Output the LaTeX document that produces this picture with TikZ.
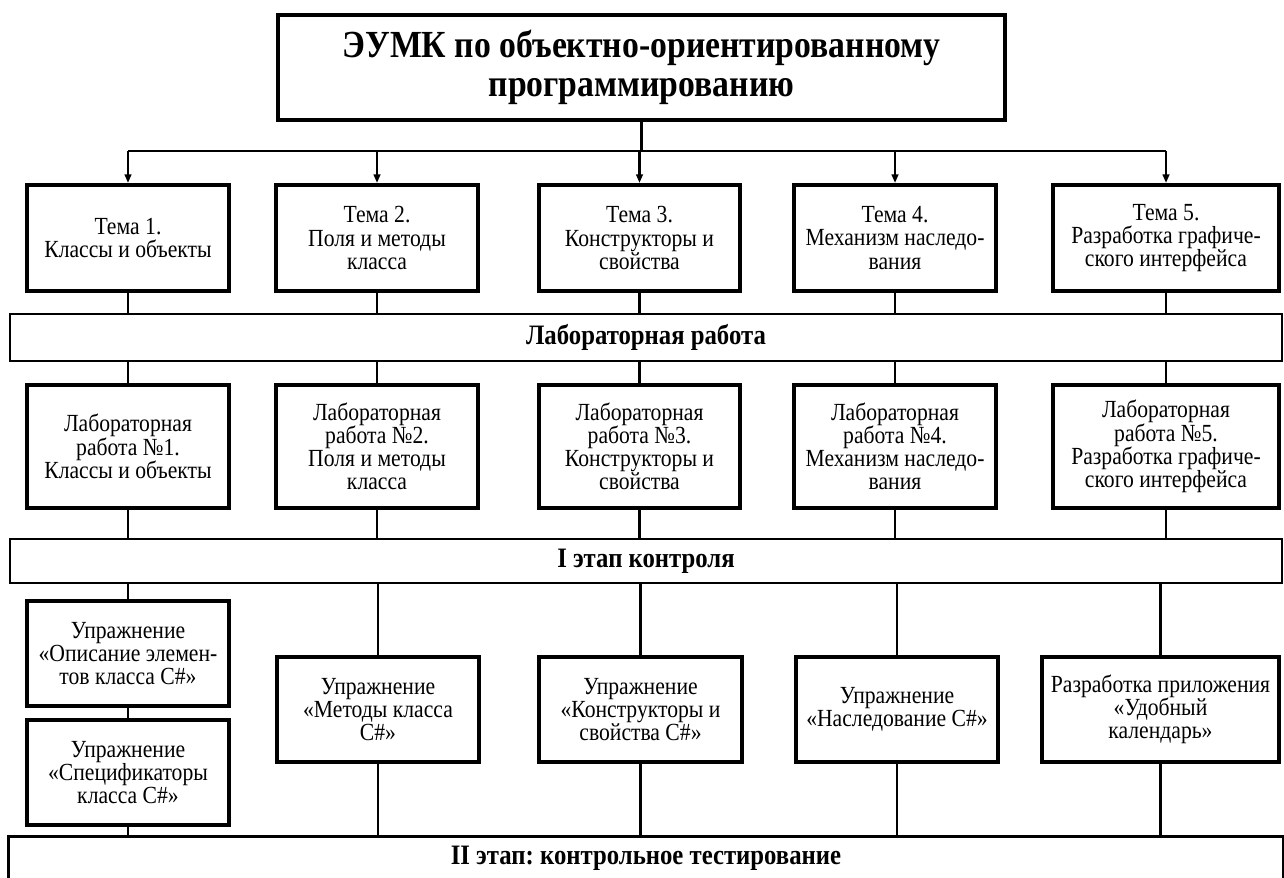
\documentclass[tikz,border=0pt]{standalone}
\usepackage{fontspec}
\setmainfont{Liberation Serif}[FakeStretch=0.88]
\usetikzlibrary{arrows.meta}
\frenchspacing

\begin{document}
\begin{tikzpicture}[x=0.02cm,y=-0.02cm,>={Triangle[length=1.7mm,width=1.3mm]},
  topicbox/.style={draw,line width=2.3pt,align=center,inner sep=1pt,font=\fontsize{14}{13.2}\selectfont},
  stagebar/.style={draw,line width=1.5pt,minimum width=25.44cm,font=\bfseries\fontsize{16}{16}\selectfont},
  link/.style={line width=1.5pt}]
\useasboundingbox (0,0) rectangle (1284,878);
% title
\node[draw,line width=2.3pt,align=center,minimum width=14.54cm,minimum height=2.1cm,font=\bfseries\fontsize{21.8}{21.8}\selectfont] (title) at (641.5,67.5) {\raisebox{-1.5pt}{ЭУМК по объектно-ориентированному}\\\raisebox{-1.5pt}{программированию}};
\coordinate (bus) at (640,151);
% topics
\node[topicbox,minimum width=4.04cm,minimum height=2.12cm] (t1) at (128,238) {Тема 1.\\Классы и объекты};
\node[topicbox,minimum width=4.04cm,minimum height=2.12cm] (t2) at (377,238) {Тема 2.\\Поля и методы\\класса};
\node[topicbox,minimum width=4.02cm,minimum height=2.12cm] (t3) at (639.5,238) {Тема 3.\\Конструкторы и\\свойства};
\node[topicbox,minimum width=4.04cm,minimum height=2.12cm] (t4) at (895,238) {Тема 4.\\Механизм наследо-\\вания};
\node[topicbox,minimum width=4.52cm,minimum height=2.12cm] (t5) at (1166,238) {Тема 5.\\Разработка графиче-\\ского интерфейса};
\node[stagebar,minimum height=0.94cm] (lab) at (646,337.5) {Лабораторная работа};
% labs
\node[topicbox,minimum width=4.04cm,minimum height=2.46cm] (l1) at (128,446.5) {Лабораторная\\работа №1.\\Классы и объекты};
\node[topicbox,minimum width=4.04cm,minimum height=2.46cm] (l2) at (377,446.5) {Лабораторная\\работа №2.\\Поля и методы\\класса};
\node[topicbox,minimum width=4.02cm,minimum height=2.46cm] (l3) at (639.5,446.5) {Лабораторная\\работа №3.\\Конструкторы и\\свойства};
\node[topicbox,minimum width=4.04cm,minimum height=2.46cm] (l4) at (895,446.5) {Лабораторная\\работа №4.\\Механизм наследо-\\вания};
\node[topicbox,minimum width=4.52cm,minimum height=2.46cm] (l5) at (1166,446.5) {Лабораторная\\работа №5.\\Разработка графиче-\\ского интерфейса};
\node[stagebar,minimum height=0.88cm] (ctrl1) at (646,561) {I этап контроля};
% exercises
\node[topicbox,minimum width=4.04cm,minimum height=2.1cm] (u1a) at (128,653.5) {Упражнение\\«Описание элемен-\\тов класса C\#»};
\node[topicbox,minimum width=4.04cm,minimum height=2.1cm] (u1b) at (128,772.5) {Упражнение\\«Спецификаторы\\класса C\#»};
\node[topicbox,minimum width=4.04cm,minimum height=2.1cm] (u2) at (378,709.5) {Упражнение\\«Методы класса\\C\#»};
\node[topicbox,minimum width=4.06cm,minimum height=2.1cm] (u3) at (640.5,709.5) {Упражнение\\«Конструкторы и\\свойства C\#»};
\node[topicbox,minimum width=4.04cm,minimum height=2.1cm] (u4) at (897,709.5) {Упражнение\\«Наследование C\#»};
\node[topicbox,minimum width=4.74cm,minimum height=2.1cm] (u5) at (1160.5,709.5) {Разработка приложения\\«Удобный\\календарь»};
\node[stagebar,draw=none,minimum height=0.8cm] (ctrl2) at (646,858) {II этап: контрольное тестирование};
\draw[link] (ctrl2.south west) -- (ctrl2.north west) -- (ctrl2.north east) -- (ctrl2.south east);
% connectors
\draw[link] (title.south) -- (title.south |- bus);
\draw[link] (bus -| t1) -- (bus -| t5);
\foreach \i in {1,...,5} {
  \draw[link,->] (bus -| t\i.north) -- (t\i.north);
  \draw[link] (t\i.south) -- (t\i.south |- lab.north);
  \draw[link] (lab.south -| l\i.north) -- (l\i.north);
  \draw[link] (l\i.south) -- (l\i.south |- ctrl1.north);
}
\draw[link] (ctrl1.south -| u1a.north) -- (u1a.north);
\draw[link] (u1a) -- (u1b);
\draw[link] (u1b.south) -- (u1b.south |- ctrl2.north);
\foreach \i in {2,...,5} {
  \draw[link] (ctrl1.south -| u\i.north) -- (u\i.north);
  \draw[link] (u\i.south) -- (u\i.south |- ctrl2.north);
}
\end{tikzpicture}
\end{document}
